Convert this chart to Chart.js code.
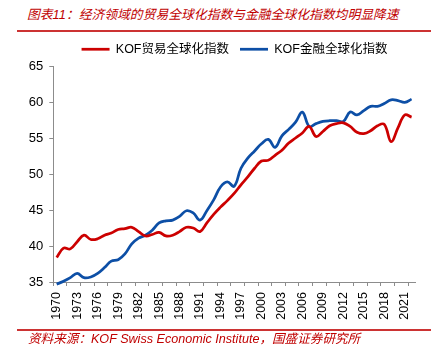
<!DOCTYPE html>
<html><head><meta charset="utf-8">
<script src="https://cdn.jsdelivr.net/npm/chart.js@4"></script>
<style>
html,body{margin:0;padding:0;background:#fff;}
body{width:438px;height:357px;position:relative;overflow:hidden;}
#title{position:absolute;left:27px;top:7px;font-size:12.8px;line-height:16px;color:#c00000;font-style:italic;white-space:nowrap;font-family:"Liberation Sans","Noto Sans CJK SC",sans-serif;}
#tline{position:absolute;left:17px;top:30px;width:414px;height:2px;background:#cc3333;}
#chartbox{position:absolute;left:0;top:32px;width:438px;height:298px;}
#fline{position:absolute;left:17px;top:329px;width:414px;height:1.5px;background:#cc3333;}
#foot{position:absolute;left:28px;top:331px;font-size:12.6px;line-height:16px;color:#c00000;font-style:italic;white-space:nowrap;font-family:"Liberation Sans","Noto Sans CJK SC",sans-serif;}
</style></head>
<body>
<div id="title">图表11：经济领域的贸易全球化指数与金融全球化指数均明显降速</div>
<div id="tline"></div>
<div id="chartbox"><canvas id="c"></canvas></div>
<div id="fline"></div>
<div id="foot">资料来源：KOF Swiss Economic Institute，国盛证券研究所</div>
<script>
const years = ['1970','1971','1972','1973','1974','1975','1976','1977','1978','1979',
'1980','1981','1982','1983','1984','1985','1986','1987','1988','1989',
'1990','1991','1992','1993','1994','1995','1996','1997','1998','1999',
'2000','2001','2002','2003','2004','2005','2006','2007','2008','2009',
'2010','2011','2012','2013','2014','2015','2016','2017','2018','2019',
'2020','2021','2022'];
const xTickLabels = ['1970','1973','1976','1979','1982','1985','1988','1991','1994','1997','2000','2003','2006','2009','2012','2015','2018','2021'];
const tradeName = 'KOF贸易全球化指数';
const financeName = 'KOF金融全球化指数';
const tradeIndex = [38.4,39.7,39.6,40.6,41.5,40.9,41.0,41.5,41.8,42.3,
42.4,42.6,42.0,41.4,41.6,41.9,41.4,41.5,42.0,42.6,
42.5,42.0,43.2,44.4,45.4,46.3,47.3,48.5,49.6,50.8,
51.8,51.9,52.6,53.3,54.3,55.0,55.7,56.6,55.2,55.9,
56.7,57.0,57.1,56.6,55.8,55.6,56.0,56.7,56.9,54.5,
56.4,58.2,57.9];
const financeIndex = [34.7,35.1,35.6,36.2,35.6,35.7,36.2,37.0,37.9,38.1,
38.9,40.3,41.1,41.5,42.2,43.2,43.5,43.6,44.1,44.9,
44.6,43.6,44.9,46.4,48.2,48.9,48.3,50.8,52.2,53.2,
54.2,54.8,53.7,55.3,56.2,57.2,58.6,56.6,57.0,57.3,
57.4,57.4,57.3,58.6,58.2,58.8,59.4,59.4,59.8,60.3,
60.2,59.95,60.4];
const yMin = 35, yMax = 65, yStep = 5;

const axisGray = '#8c8c8c';
const fontFam = '"Liberation Sans","Noto Sans CJK SC",sans-serif';

const legendPlacePlugin = {
  id: 'legendPlacePlugin',
  afterInit(chart) {
    if (!chart.legend) return;
    const orig = chart.legend.fit;
    chart.legend.fit = function() { orig.call(this); this.height = 34; };
  },
  afterLayout(chart) {
    if (!chart.legend) return;
    chart.legend.left += 22;
    chart.legend.right += 22;
  }
};

new Chart(document.getElementById('c'), {
  type: 'line',
  data: {
    labels: years,
    datasets: [
      {label: tradeName, data: tradeIndex, borderColor: '#cc0000', backgroundColor: '#cc0000',
       borderWidth: 2.75, pointRadius: 0, tension: 0.4, clip: false},
      {label: financeName, data: financeIndex, borderColor: '#0d4fa6', backgroundColor: '#0d4fa6',
       borderWidth: 2.75, pointRadius: 0, tension: 0.4, clip: false}
    ]
  },
  options: {
    responsive: true,
    maintainAspectRatio: false,
    animation: false,
    layout: {padding: {left: 10, right: 23, top: 0, bottom: 8}},
    plugins: {
      legend: {
        position: 'top',
        labels: {usePointStyle: true, pointStyle: 'line', pointStyleWidth: 28, padding: 11,
                 color: '#000', font: {size: 12.5, family: fontFam}}
      },
      tooltip: {enabled: false}
    },
    scales: {
      x: {
        type: 'category',
        offset: true,
        afterFit(scale) { scale.height = 40; },
        border: {display: true, color: axisGray, width: 1},
        grid: {display: true, drawOnChartArea: false, drawTicks: true, tickLength: 4, offset: true,
               color: (ctx) => (ctx.index % 2 === 0 ? axisGray : 'rgba(0,0,0,0)')},
        ticks: {autoSkip: false, maxRotation: 90, minRotation: 90, padding: 6, color: '#000',
                font: {size: 12.5, family: fontFam},
                callback: function(v, i) { const y = years[i]; return xTickLabels.includes(y) ? y : ''; }}
      },
      y: {
        min: yMin, max: yMax,
        afterFit(scale) { scale.width = 43.3; },
        border: {display: true, color: axisGray, width: 1},
        grid: {display: true, drawOnChartArea: false, drawTicks: true, tickLength: 4, color: axisGray},
        ticks: {stepSize: yStep, padding: 6, color: '#000', font: {size: 13, family: fontFam}}
      }
    }
  },
  plugins: [legendPlacePlugin]
});
</script>
</body></html>
